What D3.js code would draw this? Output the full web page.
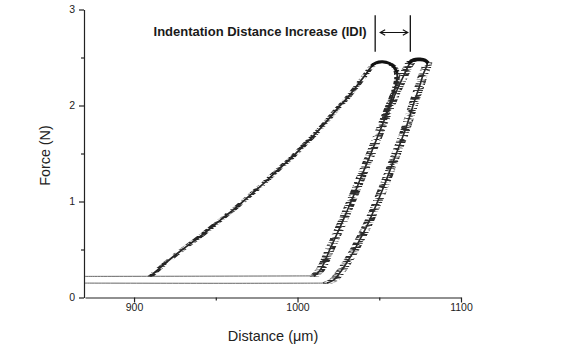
<!DOCTYPE html>
<html>
<head>
<meta charset="utf-8">
<script src="https://cdn.jsdelivr.net/npm/d3@7"></script>
<style>
  html, body { margin: 0; padding: 0; background: #fff; }
  svg { display: block; font-family: "Liberation Sans", Arial, sans-serif; }
</style>
</head>
<body>
<svg id="chart" width="570" height="350"></svg>
<script>
// Force–distance indentation curves (distance in µm, force in N)
const upperBaseline = [[870, 0.22], [940, 0.222], [1011, 0.225]];
const lowerBaseline = [[870, 0.15], [960, 0.148], [1019, 0.15]];

const firstLoad = [
  [910, 0.22], [912, 0.25], [918, 0.34], [925, 0.44], [932, 0.53], [940, 0.63],
  [948, 0.74], [956, 0.85], [964, 0.96], [972, 1.08], [980, 1.20], [988, 1.33],
  [996, 1.45], [1003, 1.57], [1010, 1.69], [1017, 1.82], [1024, 1.96], [1031, 2.09],
  [1037, 2.22], [1042, 2.33], [1045, 2.40], [1048, 2.44], [1053, 2.45], [1057, 2.43],
  [1060, 2.38], [1061, 2.31], [1060, 2.20], [1057, 2.05], [1053, 1.85]
];
const middleLoad = [
  [1010, 0.22], [1012, 0.25], [1014, 0.29], [1016, 0.35], [1018, 0.43], [1020, 0.51],
  [1023, 0.62], [1027, 0.77], [1031, 0.93], [1035, 1.09], [1039, 1.26], [1043, 1.42],
  [1047, 1.59], [1051, 1.76], [1055, 1.93], [1059, 2.09], [1063, 2.24], [1066, 2.35],
  [1068, 2.42], [1070, 2.46], [1073, 2.47]
];
const rightLoad = [
  [1018, 0.15], [1022, 0.18], [1026, 0.26], [1030, 0.36], [1034, 0.47], [1038, 0.60],
  [1042, 0.73], [1046, 0.88], [1050, 1.04], [1054, 1.21], [1058, 1.39], [1062, 1.57],
  [1066, 1.75], [1069, 1.91], [1072, 2.07], [1075, 2.22], [1077, 2.33], [1079, 2.41],
  [1079.5, 2.45]
];
// dwell at maximum load
const leftHold = [[1045, 2.41], [1048, 2.445], [1052, 2.455], [1056, 2.44], [1059, 2.40], [1061, 2.34]];
const rightHold = [[1068, 2.44], [1071, 2.475], [1075, 2.48], [1078, 2.47], [1080, 2.44]];

// axis ticks
const xMajorTicks = [900, 1000, 1100];
const xMinorTicks = [950, 1050];
const yMajorTicks = [0, 1, 2, 3];
const yMinorTicks = [0.5, 1.5, 2.5];

// IDI marker: peak positions and vertical extent of the bracket
const idiMarks = [1047.5, 1069];
const idiSpan = [2.56, 2.94];
const idiArrowForce = 2.76;
const idiLabel = "Indentation Distance Increase (IDI)";

const svg = d3.select("#chart");
const x = d3.scaleLinear().domain([870, 1100]).range([85, 461]);
const y = d3.scaleLinear().domain([0, 3]).range([297.5, 9.5]);

// noise texture giving the horizontal sampling jitter of the force signal
const defs = svg.append("defs");
function jitterFilter(id, radius, seed, freq, gain, offset) {
  const f = defs.append("filter").attr("id", id)
    .attr("filterUnits", "userSpaceOnUse")
    .attr("x", 0).attr("y", 0).attr("width", 570).attr("height", 350);
  f.append("feMorphology").attr("in", "SourceGraphic").attr("operator", "dilate")
    .attr("radius", radius + " 0").attr("result", "wide");
  f.append("feTurbulence").attr("type", "fractalNoise").attr("baseFrequency", freq)
    .attr("numOctaves", 2).attr("seed", seed).attr("result", "noise");
  f.append("feColorMatrix").attr("in", "noise").attr("type", "matrix")
    .attr("values", `0 0 0 0 0  0 0 0 0 0  0 0 0 0 0  ${gain} 0 0 0 ${offset}`).attr("result", "mask");
  f.append("feComposite").attr("in", "wide").attr("in2", "mask").attr("operator", "in").attr("result", "bars");
  const m = f.append("feMerge");
  m.append("feMergeNode").attr("in", "bars");
  m.append("feMergeNode").attr("in", "SourceGraphic");
}
jitterFilter("jitterWide", 4, 7, "0.1 0.6", 7, -3.1);
jitterFilter("jitterNarrow", 1.6, 3, "0.12 0.6", 6, -2.5);

const line = d3.line().x(d => x(d[0])).y(d => y(d[1])).curve(d3.curveCatmullRom.alpha(0.5));

const plot = svg.append("g");
plot.append("path").datum(upperBaseline).attr("d", line)
  .attr("fill", "none").attr("stroke", "#666").attr("stroke-width", 1);
plot.append("path").datum(lowerBaseline).attr("d", line)
  .attr("fill", "none").attr("stroke", "#666").attr("stroke-width", 1);

plot.append("path").datum(firstLoad).attr("d", line)
  .attr("fill", "none").attr("stroke", "#262626").attr("stroke-width", 1.8)
  .attr("filter", "url(#jitterNarrow)");
plot.append("path").datum(middleLoad).attr("d", line)
  .attr("fill", "none").attr("stroke", "#2a2a2a").attr("stroke-width", 1.6)
  .attr("filter", "url(#jitterWide)");
plot.append("path").datum(rightLoad).attr("d", line)
  .attr("fill", "none").attr("stroke", "#2a2a2a").attr("stroke-width", 1.6)
  .attr("filter", "url(#jitterWide)");

plot.append("path").datum(leftHold).attr("d", line)
  .attr("fill", "none").attr("stroke", "#111").attr("stroke-width", 3);
plot.append("path").datum(rightHold).attr("d", line)
  .attr("fill", "none").attr("stroke", "#111").attr("stroke-width", 3.6);

// axes
const axisColor = "#222";
function styleAxis(g) {
  g.selectAll("path, line").attr("stroke", axisColor).attr("stroke-width", 1.2);
  g.selectAll("text").attr("fill", "#222").attr("font-size", 10.5)
    .attr("font-family", "'Liberation Sans', Arial, sans-serif");
}
const xAxisG = svg.append("g").attr("transform", `translate(0,${y(0)})`);
xAxisG.call(d3.axisBottom(x).tickValues(xMajorTicks).tickSize(5).tickSizeOuter(0).tickPadding(1)
  .tickFormat(d3.format("d"))).call(styleAxis);
xAxisG.append("g").call(d3.axisBottom(x).tickValues(xMinorTicks).tickSize(3).tickSizeOuter(0).tickFormat(""))
  .call(styleAxis).select(".domain").remove();

const yAxisG = svg.append("g").attr("transform", `translate(${x(870) - 1},0)`);
yAxisG.call(d3.axisLeft(y).tickValues(yMajorTicks).tickSize(5).tickSizeOuter(0).tickPadding(4)
  .tickFormat(d3.format("d"))).call(styleAxis);
yAxisG.append("g").call(d3.axisLeft(y).tickValues(yMinorTicks).tickSize(3).tickSizeOuter(0).tickFormat(""))
  .call(styleAxis).select(".domain").remove();

// axis titles
svg.append("text").attr("x", (x(870) + x(1100)) / 2).attr("y", 341)
  .attr("text-anchor", "middle").attr("font-size", 14.5).attr("fill", "#222")
  .text("Distance (\u03bcm)");
svg.append("text").attr("transform", `translate(50,${(y(0) + y(3)) / 2 + 2}) rotate(-90)`)
  .attr("text-anchor", "middle").attr("font-size", 14.3).attr("fill", "#222")
  .text("Force (N)");

// IDI bracket with double-headed arrow
const ann = svg.append("g").attr("stroke", "#111").attr("fill", "none");
idiMarks.forEach(d => {
  ann.append("line").attr("x1", x(d)).attr("x2", x(d))
    .attr("y1", y(idiSpan[0])).attr("y2", y(idiSpan[1])).attr("stroke-width", 1.3);
});
const ax0 = x(idiMarks[0]) + 5, ax1 = x(idiMarks[1]) - 2.5, ay = y(idiArrowForce);
ann.append("path").attr("stroke-width", 1.1)
  .attr("d", `M${ax0 + 5},${ay - 2.8}L${ax0},${ay}L${ax0 + 5},${ay + 2.8}` +
             `M${ax0},${ay}L${ax1},${ay}` +
             `M${ax1 - 5},${ay - 2.8}L${ax1},${ay}L${ax1 - 5},${ay + 2.8}`);
svg.append("text").attr("x", x(idiMarks[0]) - 8.5).attr("y", ay + 3)
  .attr("text-anchor", "end").attr("font-size", 13).attr("font-weight", "bold")
  .attr("fill", "#1a1a1a").text(idiLabel);
</script>
</body>
</html>
